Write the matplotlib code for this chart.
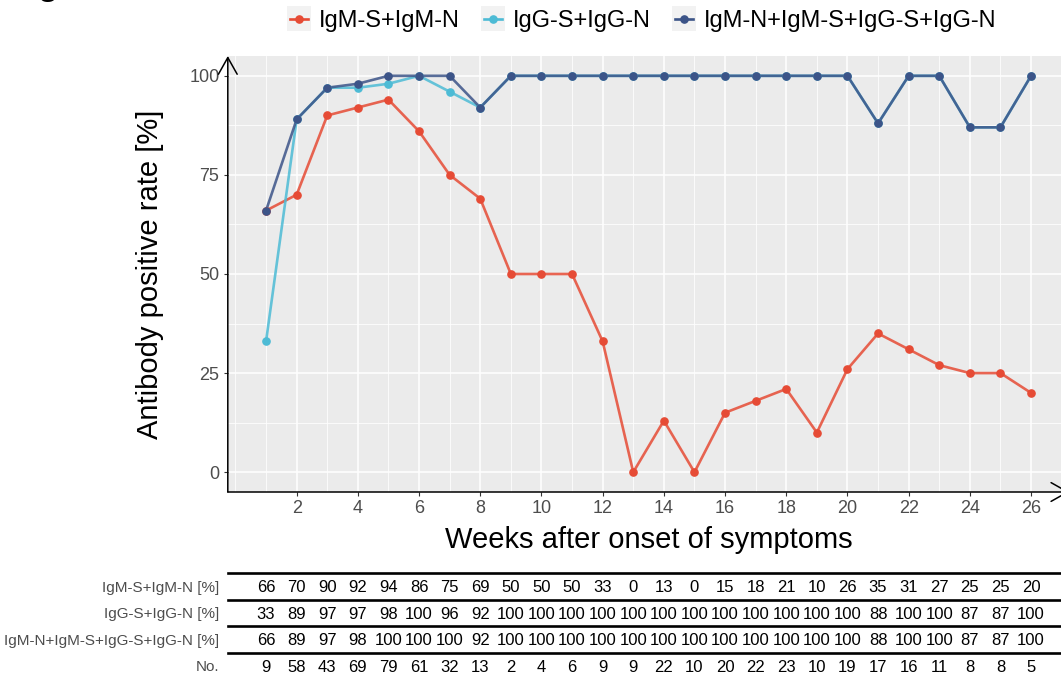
import matplotlib
matplotlib.use("Agg")
import matplotlib.pyplot as plt
from matplotlib.lines import Line2D
from matplotlib.patches import Rectangle
from matplotlib.legend_handler import HandlerLine2D

plt.rcParams['font.family'] = ['Liberation Sans', 'DejaVu Sans']

# data
weeks = list(range(1, 27))
igm = [66, 70, 90, 92, 94, 86, 75, 69, 50, 50, 50, 33, 0, 13, 0, 15, 18, 21, 10, 26, 35, 31, 27, 25, 25, 20]
igg = [33, 89, 97, 97, 98, 100, 96, 92, 100, 100, 100, 100, 100, 100, 100, 100, 100, 100, 100, 100, 88, 100, 100, 87, 87, 100]
combo = [66, 89, 97, 98, 100, 100, 100, 92, 100, 100, 100, 100, 100, 100, 100, 100, 100, 100, 100, 100, 88, 100, 100, 87, 87, 100]
counts = [9, 58, 43, 69, 79, 61, 32, 13, 2, 4, 6, 9, 9, 22, 10, 20, 22, 23, 10, 19, 17, 16, 11, 8, 8, 5]

series_names = ['IgM-S+IgM-N', 'IgG-S+IgG-N', 'IgM-N+IgM-S+IgG-S+IgG-N']
series_colors = ['#E64B35', '#4DBBD5', '#3C5488']
row_labels = ['IgM-S+IgM-N [%]', 'IgG-S+IgG-N [%]', 'IgM-N+IgM-S+IgG-S+IgG-N [%]', 'No.']

W, H = 1061, 679
fig = plt.figure(figsize=(W / 100, H / 100), dpi=100)

# main panel (pixel box -> figure fraction)
left_px, right_px, top_px, bot_px = 227.8, 1069.3, 56, 492
ax = fig.add_axes([left_px / W, 1 - bot_px / H, (right_px - left_px) / W, (bot_px - top_px) / H])
ax.set_facecolor('#EBEBEB')
ax.set_xlim(-0.25, 27.25)
ax.set_ylim(-5, 105)

ax.set_xticks(range(2, 27, 2))
ax.set_xticks([0] + list(range(1, 28, 2)), minor=True)
ax.set_yticks([0, 25, 50, 75, 100])
ax.set_yticks([12.5, 37.5, 62.5, 87.5], minor=True)
ax.grid(which='major', color='white', lw=1.1)
ax.grid(which='minor', color='white', lw=0.55)
ax.set_axisbelow(True)
ax.tick_params(which='major', length=3, width=0.8, color='#333333', labelsize=13,
               labelcolor='#4D4D4D', pad=3)
ax.tick_params(which='minor', length=0)
for s in ax.spines.values():
    s.set_visible(False)

# axis lines with open arrow heads
arrow = dict(arrowstyle='->, head_length=0.8, head_width=0.45', lw=1.1, color='black',
             mutation_scale=15, shrinkA=0, shrinkB=0)
ax.annotate('', xy=(0, 1), xytext=(0, 0), xycoords='axes fraction', arrowprops=arrow,
            annotation_clip=False)
ax.annotate('', xy=(1, 0), xytext=(0, 0), xycoords='axes fraction', arrowprops=arrow,
            annotation_clip=False)

for vals, col in zip([igm, igg, combo], series_colors):
    ax.plot(weeks, vals, color=col, lw=1.9, alpha=0.85, zorder=3, solid_capstyle='round')
    ax.plot(weeks, vals, 'o', color=col, ms=5.2, zorder=4)

ax.set_xlabel('Weeks after onset of symptoms', fontsize=21, labelpad=6)
ax.set_ylabel('Antibody positive rate [%]', fontsize=21, labelpad=18)


# legend with grey key backgrounds
class KeyHandler(HandlerLine2D):
    def create_artists(self, legend, orig_handle, xdescent, ydescent, width, height, fontsize, trans):
        arts = super().create_artists(legend, orig_handle, xdescent, ydescent, width, height,
                                      fontsize, trans)
        bg = Rectangle((-xdescent - 2, -ydescent - 3), width + 4, height + 6,
                       facecolor='#F2F2F2', edgecolor='none', transform=trans)
        return [bg] + arts


handles = [Line2D([], [], color=c, lw=1.9, marker='o', ms=5.2) for c in series_colors]
fig.legend(handles, series_names, loc='center', bbox_to_anchor=(643 / W, 1 - 21 / H),
           ncol=3, frameon=False, fontsize=17, handlelength=0.75, handletextpad=0.45,
           columnspacing=1.05, numpoints=1,
           handler_map={Line2D: KeyHandler()})

# cut-off panel letter at top-left (only its descender shows, as in the source)
fig.text(38 / W, 1 + 5 / H, 'g', fontsize=24, fontweight='bold', va='baseline')

# table below the chart
tab = fig.add_axes([left_px / W, 0, (right_px - left_px) / W, (H - 572) / H])
tab.set_xlim(-0.25, 27.25)
tab.set_ylim(3.45, -0.6)
tab.axis('off')
rows = [igm, igg, combo, counts]
for i, (lab, vals) in enumerate(zip(row_labels, rows)):
    tab.axhline(i - 0.55, color='black', lw=1.9, clip_on=False)
    tab.annotate(lab, xy=(0, i), xycoords=('axes fraction', 'data'), xytext=(-6, 0),
                 textcoords='offset points', ha='right', va='center', fontsize=11,
                 color='#4D4D4D')
    for w, v in zip(weeks, vals):
        tab.text(w, i, str(v), ha='center', va='center', fontsize=12, color='black')

fig.savefig('out.png', dpi=100)
